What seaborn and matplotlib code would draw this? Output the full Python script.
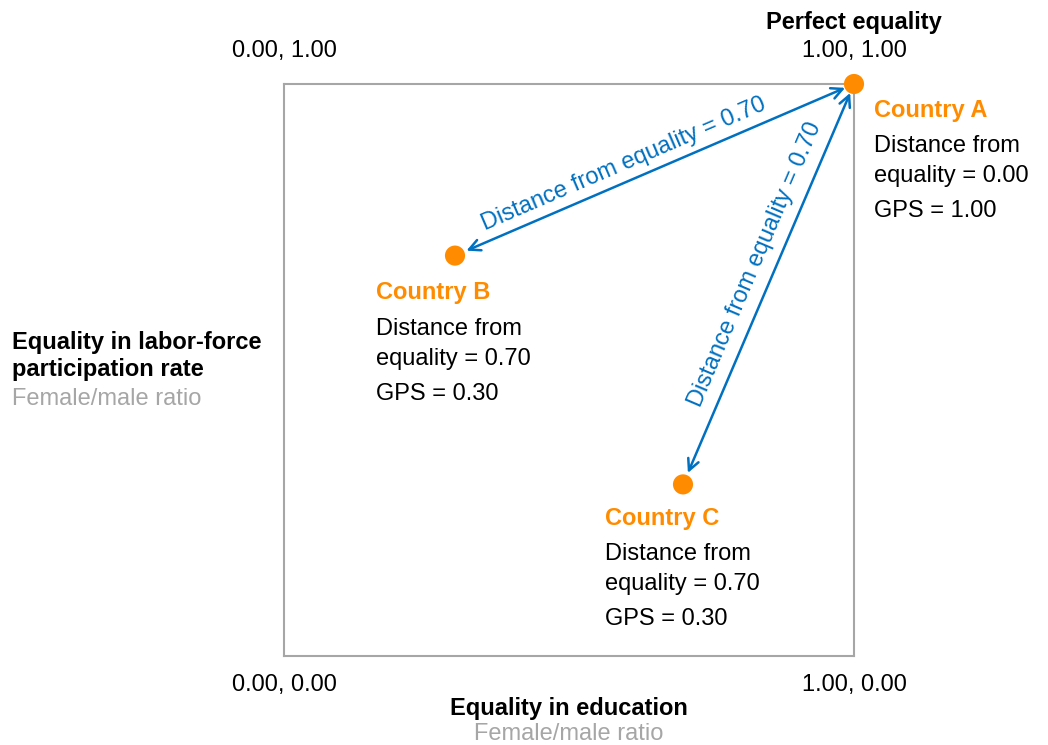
import numpy as np
import pandas as pd
import matplotlib
matplotlib.use("Agg")
import matplotlib.pyplot as plt
import seaborn as sns

countries = ["Country A", "Country B", "Country C"]
edu_ratio = [1.00, 0.30, 0.70]
labor_ratio = [1.00, 0.70, 0.30]
distance = [0.00, 0.70, 0.70]
gps = [1.00, 0.30, 0.30]

corner_labels = ["0.00, 1.00", "1.00, 1.00", "0.00, 0.00", "1.00, 0.00"]
corner_xy = [(0, 1), (1, 1), (0, 0), (1, 0)]

orange = "#FF8C00"
blue = "#0070C0"
grey = "#A6A6A6"

sns.set_style("white")
plt.rcParams["font.family"] = ["Liberation Sans", "DejaVu Sans"]
plt.rcParams["text.color"] = "black"
fs = 17

fig = plt.figure(figsize=(10.48, 7.45), dpi=100)
ax = fig.add_axes([284 / 1048, 1 - 656 / 745, 570 / 1048, 572 / 745])

df = pd.DataFrame({"country": countries, "edu": edu_ratio, "labor": labor_ratio})
sns.scatterplot(data=df, x="edu", y="labor", color=orange, s=210,
                edgecolor="none", clip_on=False, zorder=5, ax=ax)

ax.set_xlim(0, 1)
ax.set_ylim(0, 1)
ax.set_xticks([])
ax.set_yticks([])
ax.set_xlabel("")
ax.set_ylabel("")
for sp in ax.spines.values():
    sp.set_visible(True)
    sp.set_color(grey)
    sp.set_linewidth(1.5)

# corner coordinates
for lab, (cx, cy) in zip(corner_labels, corner_xy):
    dy = 33 if cy == 1 else -29
    ax.annotate(lab, (cx, cy), xytext=(0, dy), textcoords="offset pixels",
                ha="center", va="center", fontsize=fs)
ax.annotate("Perfect equality", (1, 1), xytext=(0, 62), textcoords="offset pixels",
            ha="center", va="center", fontsize=fs, fontweight="bold")

# axis titles
ax.annotate("Equality in education", (0.5, 0), xytext=(0, -52), textcoords="offset pixels",
            ha="center", va="center", fontsize=fs, fontweight="bold")
ax.annotate("Female/male ratio", (0.5, 0), xytext=(0, -78), textcoords="offset pixels",
            ha="center", va="center", fontsize=fs, color=grey)
fig.text(12 / 1048, 1 - 356 / 745, "Equality in labor-force\nparticipation rate",
         ha="left", va="center", fontsize=fs, fontweight="bold")
fig.text(12 / 1048, 1 - 399 / 745, "Female/male ratio",
         ha="left", va="center", fontsize=fs, color=grey)

# country labels
label_offsets = [(20, -26), (-79, -37), (-78, -34)]
line_steps = [0, 36, 66, 101]
for i, name in enumerate(countries):
    ox, oy = label_offsets[i]
    lines = [name, "Distance from", f"equality = {distance[i]:.2f}", f"GPS = {gps[i]:.2f}"]
    for j, txt in enumerate(lines):
        ax.annotate(txt, (edu_ratio[i], labor_ratio[i]),
                    xytext=(ox, oy - line_steps[j]), textcoords="offset pixels",
                    ha="left", va="center", fontsize=fs,
                    color=orange if j == 0 else "black",
                    fontweight="bold" if j == 0 else "normal")

# distance arrows from A to B and C
w_px, h_px = 570, 572
text_frac = [None, 0.44, 0.53]
text_side = [None, 17, 20]
for i in [1, 2]:
    ax.annotate("", xy=(edu_ratio[i], labor_ratio[i]), xytext=(edu_ratio[0], labor_ratio[0]),
                arrowprops=dict(arrowstyle="<->", color=blue,
                                lw=1.8, shrinkA=7, shrinkB=9, mutation_scale=20))
    dx = (edu_ratio[0] - edu_ratio[i]) * w_px
    dy = (labor_ratio[0] - labor_ratio[i]) * h_px
    ang = np.degrees(np.arctan2(dy, dx))
    L = np.hypot(dx, dy)
    nx, ny = -dy / L, dx / L
    f = text_frac[i]
    px = edu_ratio[i] + f * (edu_ratio[0] - edu_ratio[i])
    py = labor_ratio[i] + f * (labor_ratio[0] - labor_ratio[i])
    ax.annotate(f"Distance from equality = {distance[i]:.2f}", (px, py),
                xytext=(nx * text_side[i], ny * text_side[i]), textcoords="offset pixels",
                ha="center", va="center", rotation=ang, rotation_mode="anchor",
                fontsize=fs, color=blue)

fig.savefig("out.png", dpi=100)
